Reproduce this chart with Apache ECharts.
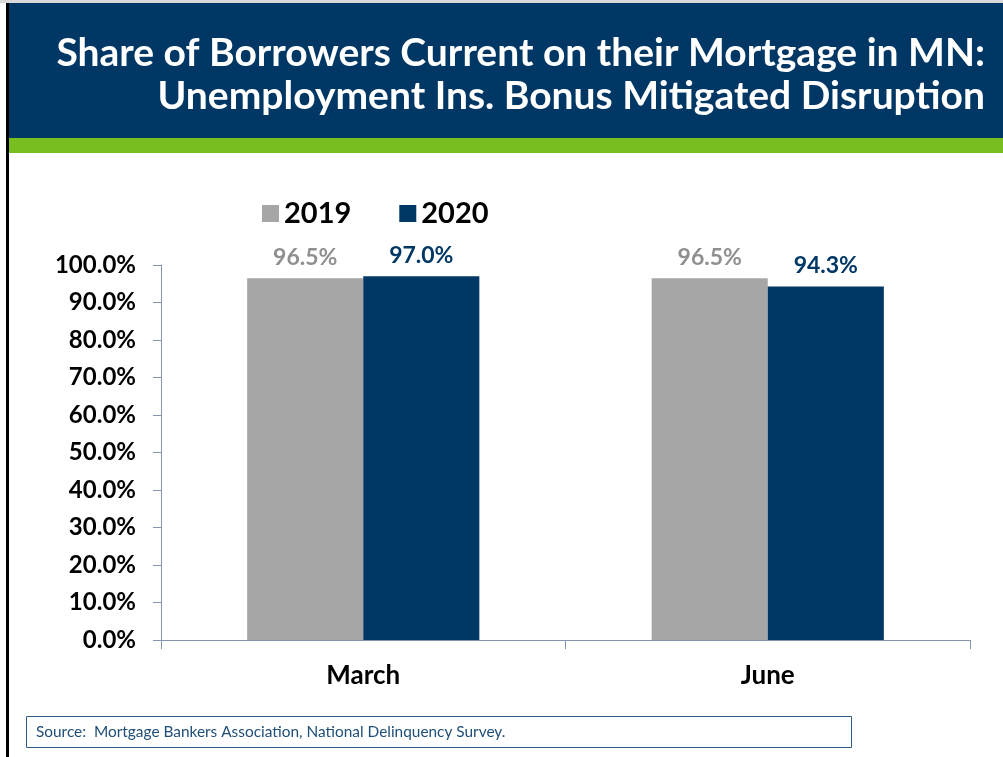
<!DOCTYPE html>
<html><head><meta charset="utf-8">
<script src="https://cdn.jsdelivr.net/npm/echarts@6/dist/echarts.min.js"></script>
<style>html,body{margin:0;padding:0;background:#fff;}#c{width:1003px;height:757px;}</style>
</head><body><div id="c"></div>
<script>
const categories = ['March', 'June'];
const seriesNames = ['2019', '2020'];
const values2019 = [96.5, 96.5];
const values2020 = [97.0, 94.3];
const titleLines = ['Share of Borrowers Current on their Mortgage in MN:', 'Unemployment Ins. Bonus Mitigated Disruption'];
const sourceText = 'Source:  Mortgage Bankers Association, National Delinquency Survey.';

const NAVY = '#003764', GRAY = '#A6A6A6', GREEN = '#78BE20';
const FONT = 'Lato, "Open Sans", sans-serif';
const chart = echarts.init(document.getElementById('c'));
chart.setOption({
  backgroundColor: '#fff',
  animation: false,
  graphic: [
    { type: 'rect', shape: { x: 0, y: 0, width: 1003, height: 3 }, style: { fill: '#d9d9d9' }, z: 0 },
    { type: 'rect', shape: { x: 9, y: 3, width: 994, height: 135 }, style: { fill: NAVY }, z: 0 },
    { type: 'rect', shape: { x: 9, y: 138, width: 994, height: 15 }, style: { fill: GREEN }, z: 0 },
    { type: 'rect', shape: { x: 6, y: 3, width: 3, height: 754 }, style: { fill: '#000' }, z: 0 },
    { type: 'text', x: 985, y: 53, style: { text: titleLines[0], fill: '#fff', font: 'bold 39px ' + FONT, align: 'right', verticalAlign: 'middle' }, z: 5 },
    { type: 'text', x: 985, y: 96, style: { text: titleLines[1], fill: '#fff', font: 'bold 39px ' + FONT, align: 'right', verticalAlign: 'middle' }, z: 5 },
    { type: 'rect', shape: { x: 26.5, y: 716.5, width: 825, height: 31 }, style: { fill: '#fff', stroke: '#2E5A88', lineWidth: 1 }, z: 5 },
    { type: 'text', x: 36, y: 732, style: { text: sourceText, fill: '#1F4E79', font: '15.4px ' + FONT, verticalAlign: 'middle' }, z: 6 }
  ],
  legend: {
    data: seriesNames,
    left: 257, top: 194,
    icon: 'rect', itemWidth: 17, itemHeight: 17, itemGap: 48,
    textStyle: { fontFamily: FONT, fontWeight: 'bold', fontSize: 29, color: '#000' }
  },
  grid: { left: 161, right: 33, top: 265, bottom: 117 },
  xAxis: {
    type: 'category', data: categories,
    axisLine: { lineStyle: { color: '#8497B0', width: 1 } },
    axisTick: { show: true, length: 9, lineStyle: { color: '#8497B0' } },
    axisLabel: { fontFamily: FONT, fontWeight: 'bold', fontSize: 26, color: '#000', margin: 23 }
  },
  yAxis: {
    type: 'value', min: 0, max: 100, interval: 10,
    axisLine: { show: true, lineStyle: { color: '#8497B0', width: 1 } },
    axisTick: { show: true, length: 8, lineStyle: { color: '#8497B0' } },
    splitLine: { show: false },
    axisLabel: { fontFamily: FONT, fontWeight: 'bold', fontSize: 24, color: '#000', margin: 25,
      formatter: v => v.toFixed(1) + '%' }
  },
  series: [
    { name: seriesNames[0], type: 'bar', data: values2019, barGap: '0%', barCategoryGap: '42.6%',
      itemStyle: { color: GRAY },
      label: { show: true, position: 'top', distance: 9, formatter: p => p.value.toFixed(1) + '%',
        fontFamily: FONT, fontWeight: 'bold', fontSize: 23, color: '#8F8F8F' } },
    { name: seriesNames[1], type: 'bar', data: values2020,
      itemStyle: { color: NAVY },
      label: { show: true, position: 'top', distance: 9, formatter: p => p.value.toFixed(1) + '%',
        fontFamily: FONT, fontWeight: 'bold', fontSize: 23, color: NAVY } }
  ]
});
</script></body></html>
